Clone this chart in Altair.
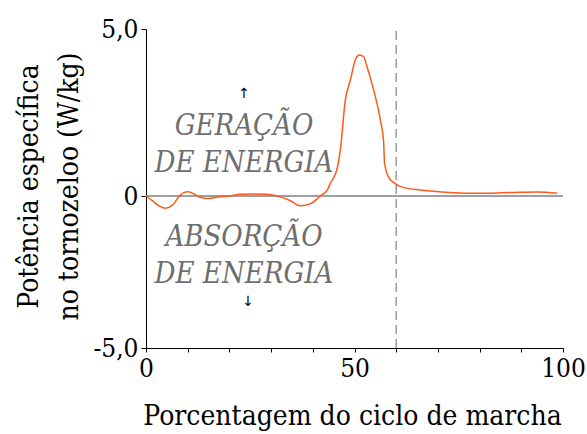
import altair as alt
import pandas as pd

# Ankle specific power over the gait cycle
x_pct = [0, 1.5, 3, 4.6, 6.5, 8, 9, 10.2, 11.5, 13, 15, 17, 20, 22.6, 26, 29, 32,
         34.5, 37, 39.5, 41.8, 43.5, 44.2, 45.8, 46.6, 47.8, 49, 50.2, 51.2, 52.2,
         53, 54.6, 56.2, 57, 57.2, 58.1, 59.4, 61.8, 65.8, 68.2, 73.7, 77.8, 81.8,
         85.7, 89.5, 93.8, 98.6]
power = [0, -0.15, -0.32, -0.40, -0.28, 0.0, 0.10, 0.13, 0.06, -0.04, -0.08, -0.04,
         0.0, 0.05, 0.06, 0.05, -0.02, -0.15, -0.32, -0.25, 0.0, 0.18, 0.38, 0.80,
         1.38, 2.87, 3.47, 4.07, 4.22, 4.17, 3.87, 3.17, 2.28, 1.58, 0.98, 0.58,
         0.40, 0.25, 0.18, 0.15, 0.10, 0.08, 0.08, 0.10, 0.11, 0.12, 0.08]

x_ticks = [0, 10, 20, 30, 40, 50, 60, 70, 80, 90, 100]
y_ticks = [-5, 0, 5]
swing_start = [60]

ann_text = ["GERAÇÃO", "DE ENERGIA", "ABSORÇÃO", "DE ENERGIA"]
ann_x = [23.5, 23.5, 23.5, 23.5]
ann_y = [1.83, 0.72, -1.64, -2.86]

arrow_text = ["↑", "↓"]
arrow_x = [23.5, 24.5]
arrow_y = [3.05, -3.49]

SERIF = "DejaVu Serif Condensed"

df = pd.DataFrame({"x": x_pct, "p": power})
ann = pd.DataFrame({"x": ann_x, "y": ann_y, "t": ann_text})
arr = pd.DataFrame({"x": arrow_x, "y": arrow_y, "t": arrow_text})
vline = pd.DataFrame({"x": swing_start, "y0": [-5], "y1": [5]})
zero = pd.DataFrame({"x0": [0], "x1": [100], "y": [0]})

xs = alt.Scale(domain=[0, 100], nice=False)
ys = alt.Scale(domain=[-5, 0, 5], range=[319, 167, 0], nice=False, zero=False)

x_axis = alt.Axis(
    values=x_ticks,
    labelExpr="datum.value % 50 == 0 ? datum.label : ''",
    title="Porcentagem do ciclo de marcha",
    grid=False, tickSize=4, labelPadding=3,
    titleX=206, titleY=76, titleAlign="center", titleBaseline="alphabetic",
)
y_axis = alt.Axis(
    values=y_ticks,
    labelExpr="datum.value == 0 ? '0' : (datum.value < 0 ? '-' : '') + replace(format(abs(datum.value), '.1f'), '.', ',')",
    title=["Potência específica", "no tornozeloo (W/kg)"],
    grid=False, tickSize=5, labelPadding=3,
    titleX=-109, titleY=157, titleAngle=270, titleAlign="center",
    titleBaseline="alphabetic", titleLineHeight=40,
)

zero_line = alt.Chart(zero).mark_rule(color="#7f7f7f", strokeWidth=1.5).encode(
    x=alt.X("x0:Q", scale=xs, axis=x_axis),
    x2="x1:Q",
    y=alt.Y("y:Q", scale=ys, axis=y_axis),
)

dashed = alt.Chart(vline).mark_rule(color="#8c8c8c", strokeWidth=1.3, strokeDash=[9, 5]).encode(
    x=alt.X("x:Q", scale=xs),
    y=alt.Y("y0:Q", scale=ys),
    y2="y1:Q",
)

curve = alt.Chart(df).mark_line(color="#ff5a1a", strokeWidth=1.5, interpolate="monotone").encode(
    x=alt.X("x:Q", scale=xs),
    y=alt.Y("p:Q", scale=ys),
)

labels = alt.Chart(ann).mark_text(
    font=SERIF, fontSize=29, fontStyle="italic", color="#6e6e6e",
    align="center", baseline="alphabetic",
).encode(
    x=alt.X("x:Q", scale=xs),
    y=alt.Y("y:Q", scale=ys),
    text="t:N",
)

arrows = alt.Chart(arr).mark_text(
    font="DejaVu Sans", fontSize=14, color="#000000",
    align="center", baseline="middle",
).encode(
    x=alt.X("x:Q", scale=xs),
    y=alt.Y("y:Q", scale=ys),
    text="t:N",
)

chart = alt.layer(zero_line, dashed, curve, labels, arrows).properties(
    width=417, height=319,
    autosize=alt.AutoSizeParams(type="none"),
    padding={"left": 146, "top": 29, "right": 24, "bottom": 86},
    background="white",
).configure_view(stroke=None).configure_axis(
    labelFont=SERIF, titleFont=SERIF, labelFontSize=26, titleFontSize=28,
    titleFontWeight="normal", labelColor="#000000", titleColor="#000000",
    domainColor="#000000", tickColor="#000000", domainWidth=1, tickWidth=1,
    labelOverlap=False, labelFlush=False,
)

chart.save("out.html", embed_options={"renderer": "svg", "actions": False})
